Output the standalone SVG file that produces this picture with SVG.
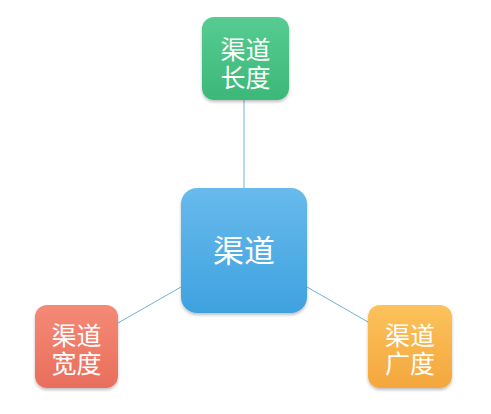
<svg xmlns="http://www.w3.org/2000/svg" width="491" height="414" viewBox="0 0 491 414">
<defs>
<linearGradient id="gGreen" x1="0" y1="0" x2="0" y2="1"><stop offset="0" stop-color="#56cc92"/><stop offset="1" stop-color="#3cb878"/></linearGradient>
<linearGradient id="gBlue" x1="0" y1="0" x2="0" y2="1"><stop offset="0" stop-color="#68baec"/><stop offset="1" stop-color="#3ea2df"/></linearGradient>
<linearGradient id="gRed" x1="0" y1="0" x2="0" y2="1"><stop offset="0" stop-color="#f48a76"/><stop offset="1" stop-color="#e96e5c"/></linearGradient>
<linearGradient id="gOrange" x1="0" y1="0" x2="0" y2="1"><stop offset="0" stop-color="#fcc25c"/><stop offset="1" stop-color="#f4a73d"/></linearGradient>
<filter id="sh" x="-20%" y="-20%" width="140%" height="150%"><feDropShadow dx="0" dy="2" stdDeviation="1.5" flood-color="#000" flood-opacity="0.25"/></filter>
</defs>
<style>
.t{font-family:"Liberation Sans","Noto Sans CJK SC","Noto Sans CJK JP",sans-serif;fill:#ffffff;text-anchor:middle}
.s{font-size:25px}
.b{font-size:31px}
.c{stroke:#6eb2d8;stroke-width:1;fill:none}
</style>
<rect width="491" height="414" fill="#ffffff"/>
<g id="connectors">
<line class="c" x1="244" y1="100" x2="244" y2="188"/>
<line class="c" x1="118" y1="323" x2="181" y2="287"/>
<line class="c" x1="307" y1="287" x2="368" y2="322"/>
</g>
<g id="node-center">
<rect x="181" y="188" width="126" height="125" rx="16" fill="url(#gBlue)" filter="url(#sh)"/>
<text class="t b" x="244" y="262">渠道</text>
</g>
<g id="node-length">
<rect x="202" y="17" width="87" height="83" rx="12" fill="url(#gGreen)" filter="url(#sh)"/>
<text class="t s" x="245.5" y="59"><tspan x="245.5">渠道</tspan><tspan x="245.5" dy="28">长度</tspan></text>
</g>
<g id="node-width">
<rect x="35" y="305" width="83" height="83" rx="12" fill="url(#gRed)" filter="url(#sh)"/>
<text class="t s" x="76.5" y="345"><tspan x="76.5">渠道</tspan><tspan x="76.5" dy="28">宽度</tspan></text>
</g>
<g id="node-breadth">
<rect x="368" y="305" width="84" height="83" rx="12" fill="url(#gOrange)" filter="url(#sh)"/>
<text class="t s" x="410" y="345"><tspan x="410">渠道</tspan><tspan x="410" dy="28">广度</tspan></text>
</g>
</svg>
